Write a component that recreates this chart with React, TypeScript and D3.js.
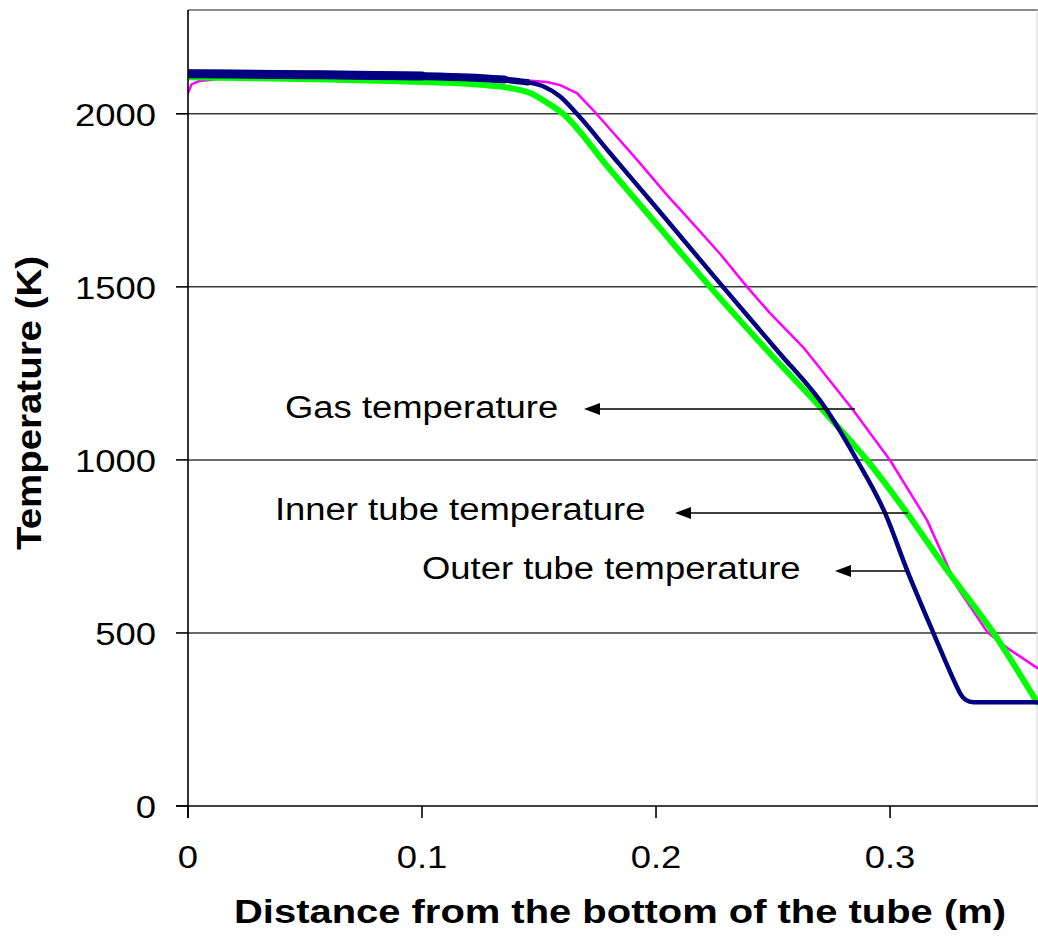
import React, { useEffect } from "react";
import * as d3 from "d3";

// ---- data ----
const xTicks = [0, 0.1, 0.2, 0.3];
const yTicks = [0, 500, 1000, 1500, 2000];
const xTickLabels = ["0", "0.1", "0.2", "0.3"];
const yTickLabels = ["0", "500", "1000", "1500", "2000"];

const gasX = [0, 0.0015, 0.005, 0.012, 0.03, 0.06, 0.1, 0.13, 0.148, 0.1534, 0.159, 0.1662, 0.1731, 0.1833, 0.1919, 0.2047, 0.2132, 0.2274, 0.2389, 0.2487, 0.2628, 0.2671, 0.2842, 0.3, 0.3158, 0.3286, 0.3415, 0.35, 0.3628];
const gasY = [2060, 2085, 2095, 2100, 2104, 2108, 2107, 2102, 2095, 2092, 2083, 2060, 2011, 1933, 1867, 1765, 1702, 1595, 1500, 1424, 1326, 1290, 1144, 999, 826, 633, 503, 457, 399];

const innerX = [0, 0.02, 0.05, 0.08, 0.1, 0.12, 0.135, 0.145, 0.152, 0.159, 0.1662, 0.1803, 0.2, 0.2286, 0.2517, 0.2731, 0.2859, 0.2979, 0.3073, 0.3184, 0.3286, 0.33, 0.3325, 0.3355, 0.345, 0.3632];
const innerY = [2116, 2115, 2113, 2111, 2109, 2105, 2099, 2091, 2079, 2050, 2000, 1887, 1730, 1500, 1317, 1143, 999, 846, 681, 502, 344, 325, 306, 300, 300, 300];

const outerX = [0, 0.03, 0.06, 0.09, 0.11, 0.125, 0.138, 0.1462, 0.1534, 0.1603, 0.1791, 0.2, 0.2231, 0.2474, 0.2714, 0.2902, 0.3073, 0.3244, 0.344, 0.3628];
const outerY = [2106, 2103, 2099, 2094, 2090, 2084, 2074, 2060, 2032, 2000, 1849, 1683, 1500, 1317, 1143, 999, 846, 681, 502, 300];

const seriesNames = ["Gas temperature", "Inner tube temperature", "Outer tube temperature"];

// ---- layout ----
const W = 1038;
const H = 951;
const L = 188, R = 1037, T = 10, B = 806;

const xScale = d3.scaleLinear().domain([0, 0.3628]).range([L, R]);
const yScale = d3.scaleLinear().domain([0, 2300]).range([B, T]);

const toPts = (xs: number[], ys: number[]) => xs.map((x, i) => [x, ys[i]] as [number, number]);
const smooth = d3.line<[number, number]>().x(d => xScale(d[0])).y(d => yScale(d[1])).curve(d3.curveMonotoneX);
const straight = d3.line<[number, number]>().x(d => xScale(d[0])).y(d => yScale(d[1])).curve(d3.curveLinear);

const gasPts = toPts(gasX, gasY);
const innerPts = toPts(innerX, innerY);
const outerPts = toPts(outerX, outerY);

const FONT = "'Liberation Sans', Arial, sans-serif";
const SX = 1.175; // horizontal stretch of the original picture

function Txt(props: { x: number; y: number; anchor?: string; size: number; bold?: boolean; children: string }) {
  const { x, y, anchor = "start", size, bold, children } = props;
  return (
    <text
      transform={`translate(${x},${y}) scale(${SX},1)`}
      textAnchor={anchor}
      fontFamily={FONT}
      fontSize={size}
      fontWeight={bold ? "bold" : "normal"}
      fill="#000"
    >
      {children}
    </text>
  );
}

function Arrow(props: { tip: number; end: number; y: number }) {
  const { tip, end, y } = props;
  return (
    <g>
      <line x1={tip + 10} x2={end} y1={y} y2={y} stroke="#000" strokeWidth={1.6} />
      <polygon points={`${tip},${y} ${tip + 16},${y - 6} ${tip + 16},${y + 6}`} fill="#000" />
    </g>
  );
}

export default function App() {
  useEffect(() => {
    document.body.style.margin = "0";
  }, []);

  return (
    <svg width={W} height={H} style={{ display: "block", background: "#fff" }}>
      <defs>
        <clipPath id="plot">
          <rect x={L} y={T} width={R - L + 1} height={B - T} />
        </clipPath>
      </defs>
      <rect x={0} y={0} width={W} height={H} fill="#fff" />

      {/* gridlines */}
      {yTicks.filter(v => v > 0).map(v => (
        <line key={v} x1={L} x2={R + 1} y1={yScale(v)} y2={yScale(v)} stroke="#3a3a3a" strokeWidth={1.5} />
      ))}
      <line x1={L} x2={R + 1} y1={T} y2={T} stroke="#8a8a8a" strokeWidth={2} />
      <line x1={R} x2={R} y1={T} y2={B} stroke="#d8d8d8" strokeWidth={1} />

      {/* series */}
      <g clipPath="url(#plot)" fill="none" strokeLinejoin="round" strokeLinecap="round">
        <path d={straight(gasPts) || ""} stroke="#ff00ff" strokeWidth={2.5} />
        <path d={smooth(outerPts) || ""} stroke="#00ff00" strokeWidth={6} />
        <path d={smooth(innerPts) || ""} stroke="#000080" strokeWidth={4.5} />
        <path d={smooth(innerPts.filter(p => p[0] <= 0.145)) || ""} stroke="#000080" strokeWidth={6.5} />
        <path d={smooth(innerPts.filter(p => p[0] <= 0.135)) || ""} stroke="#000080" strokeWidth={8} />
        <path d={smooth(innerPts.filter(p => p[0] <= 0.1)) || ""} stroke="#000080" strokeWidth={9} />
      </g>

      {/* axes */}
      <line x1={L} x2={L} y1={T} y2={B + 12} stroke="#000" strokeWidth={1.6} />
      <line x1={L - 12} x2={R + 1} y1={B} y2={B} stroke="#000" strokeWidth={1.6} />
      {yTicks.map(v => (
        <line key={"yt" + v} x1={L - 12} x2={L} y1={yScale(v)} y2={yScale(v)} stroke="#000" strokeWidth={1.6} />
      ))}
      {xTicks.map(v => (
        <line key={"xt" + v} x1={xScale(v)} x2={xScale(v)} y1={B} y2={B + 12} stroke="#000" strokeWidth={1.6} />
      ))}

      {/* tick labels */}
      {yTicks.map((v, i) => (
        <Txt key={"yl" + v} x={156} y={yScale(v) + 12} anchor="end" size={31}>{yTickLabels[i]}</Txt>
      ))}
      {xTicks.map((v, i) => (
        <Txt key={"xl" + v} x={xScale(v)} y={868} anchor="middle" size={31}>{xTickLabels[i]}</Txt>
      ))}

      {/* axis titles */}
      <Txt x={620} y={923} anchor="middle" size={34} bold>Distance from the bottom of the tube (m)</Txt>
      <text
        transform={`translate(41,403) rotate(-90) scale(1.24,1.15)`}
        textAnchor="middle"
        fontFamily={FONT}
        fontSize={31}
        fontWeight="bold"
        fill="#000"
      >
        Temperature (K)
      </text>

      {/* annotations */}
      <Txt x={285} y={418} size={31}>{seriesNames[0]}</Txt>
      <Arrow tip={584} end={855} y={409} />
      <Txt x={275} y={520} size={31}>{seriesNames[1]}</Txt>
      <Arrow tip={675} end={908} y={513} />
      <Txt x={422} y={579} size={31}>{seriesNames[2]}</Txt>
      <Arrow tip={835} end={907} y={571} />
    </svg>
  );
}
